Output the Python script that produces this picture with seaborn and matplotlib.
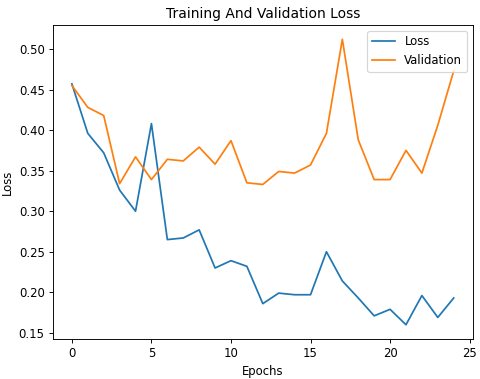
import numpy as np
import pandas as pd
import seaborn as sns
import matplotlib
matplotlib.use("Agg")
import matplotlib.pyplot as plt

# Values
epochs = list(range(25))
loss = [0.457, 0.396, 0.372, 0.326, 0.300, 0.408, 0.265, 0.267, 0.277, 0.230,
        0.239, 0.232, 0.186, 0.199, 0.197, 0.197, 0.250, 0.214, 0.193, 0.171,
        0.179, 0.160, 0.196, 0.169, 0.193]
val_loss = [0.455, 0.428, 0.418, 0.334, 0.367, 0.339, 0.364, 0.362, 0.379, 0.358,
            0.387, 0.335, 0.333, 0.349, 0.347, 0.357, 0.396, 0.512, 0.388, 0.339,
            0.339, 0.375, 0.347, 0.406, 0.473]

df = pd.DataFrame({"Epochs": epochs + epochs,
                   "Loss": loss + val_loss,
                   "Series": ["Loss"] * len(loss) + ["Validation"] * len(val_loss)})

dpi = 83.3
fig, ax = plt.subplots(figsize=(480 / dpi, 379 / dpi), dpi=dpi)
sns.lineplot(data=df, x="Epochs", y="Loss", hue="Series",
             palette=["tab:blue", "tab:orange"], ax=ax, linewidth=1.5)

ax.set_title("Training And Validation Loss")
ax.set_xlabel("Epochs")
ax.set_ylabel("Loss")
ax.legend(loc="upper right")
ax.set_xticks([0, 5, 10, 15, 20, 25])

plt.subplots_adjust(left=0.110, right=0.985, top=0.934, bottom=0.1055)
plt.savefig("out.png", dpi=dpi)
